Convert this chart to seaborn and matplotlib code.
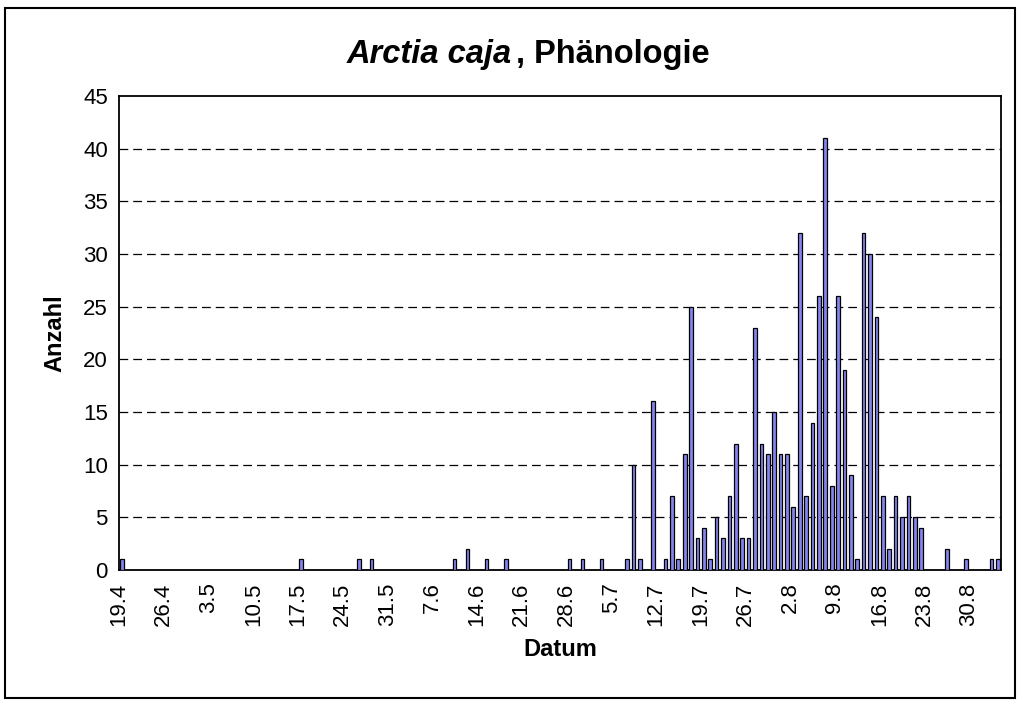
import pandas as pd
import matplotlib
matplotlib.use("Agg")
import matplotlib.pyplot as plt
import seaborn as sns
from matplotlib.patches import Rectangle

# daily counts from 19.4 to 3.9 (138 days)
counts = [
    1, 0, 0, 0, 0, 0, 0, 0, 0, 0,
    0, 0, 0, 0, 0, 0, 0, 0, 0, 0,
    0, 0, 0, 0, 0, 0, 0, 0, 1, 0,
    0, 0, 0, 0, 0, 0, 0, 1, 0, 1,
    0, 0, 0, 0, 0, 0, 0, 0, 0, 0,
    0, 0, 1, 0, 2, 0, 0, 1, 0, 0,
    1, 0, 0, 0, 0, 0, 0, 0, 0, 0,
    1, 0, 1, 0, 0, 1, 0, 0, 0, 1,
    10, 1, 0, 16, 0, 1, 7, 1, 11, 25,
    3, 4, 1, 5, 3, 7, 12, 3, 3, 23,
    12, 11, 15, 11, 11, 6, 32, 7, 14, 26,
    41, 8, 26, 19, 9, 1, 32, 30, 24, 7,
    2, 7, 5, 7, 5, 4, 0, 0, 0, 2,
    0, 0, 1, 0, 0, 0, 1, 1,
]
days = pd.date_range("2009-04-19", periods=len(counts), freq="D")
dates = [f"{d.day}.{d.month}" for d in days]
tick_labels = ["19.4", "26.4", "3.5", "10.5", "17.5", "24.5", "31.5", "7.6",
               "14.6", "21.6", "28.6", "5.7", "12.7", "19.7", "26.7", "2.8",
               "9.8", "16.8", "23.8", "30.8"]
y_ticks = [0, 5, 10, 15, 20, 25, 30, 35, 40, 45]

df = pd.DataFrame({"Datum": dates, "Anzahl": counts})

sns.set_style("white")
plt.rcParams["font.family"] = ["Liberation Sans", "DejaVu Sans"]
plt.rcParams["text.color"] = "black"
plt.rcParams["axes.labelcolor"] = "black"
plt.rcParams["xtick.color"] = "black"
plt.rcParams["ytick.color"] = "black"

fig = plt.figure(figsize=(10.2, 7.04), dpi=100)
ax = fig.add_axes([0.1167, 0.1903, 0.8647, 0.6733])

sns.barplot(data=df, x="Datum", y="Anzahl", width=0.58, color="#8585EE",
            saturation=1, edgecolor="black", linewidth=0.9, ax=ax, zorder=3)

ax.set_ylim(0, 45)
ax.set_xlim(-0.5, len(counts) - 0.5)
ax.set_yticks(y_ticks)
ax.set_yticklabels([str(v) for v in y_ticks], fontsize=16)
pos = [dates.index(t) - 0.5 for t in tick_labels]
ax.set_xticks(pos)
ax.set_xticklabels(tick_labels, rotation=90, fontsize=16)
for lbl in ax.get_xticklabels():
    lbl.set_horizontalalignment("center")

ax.tick_params(axis="both", direction="out", length=5, width=1, pad=3)
ax.tick_params(axis="x", pad=4)

for y in y_ticks[1:-1]:
    ax.axhline(y, color="black", lw=0.9, ls=(0, (7, 4)), zorder=1)

for s in ax.spines.values():
    s.set_color("black")
    s.set_linewidth(1.3)

ax.set_xlabel("Datum", fontsize=17, fontweight="bold", labelpad=9)
ax.set_ylabel("Anzahl", fontsize=17, fontweight="bold", labelpad=12)

# title with italic species name
fig.text(0.502, 0.922, "Arctia caja", fontsize=23.5, fontweight="bold",
         fontstyle="italic", ha="right", va="center")
fig.text(0.506, 0.922, ", Phänologie", fontsize=23.5, fontweight="bold",
         ha="left", va="center")

# chart area frame
fig.patches.append(Rectangle((5 / 1020, 6 / 704), 1010 / 1020, 690 / 704,
                             transform=fig.transFigure, fill=False,
                             edgecolor="black", linewidth=1.5))

fig.savefig("out.png", dpi=100)
